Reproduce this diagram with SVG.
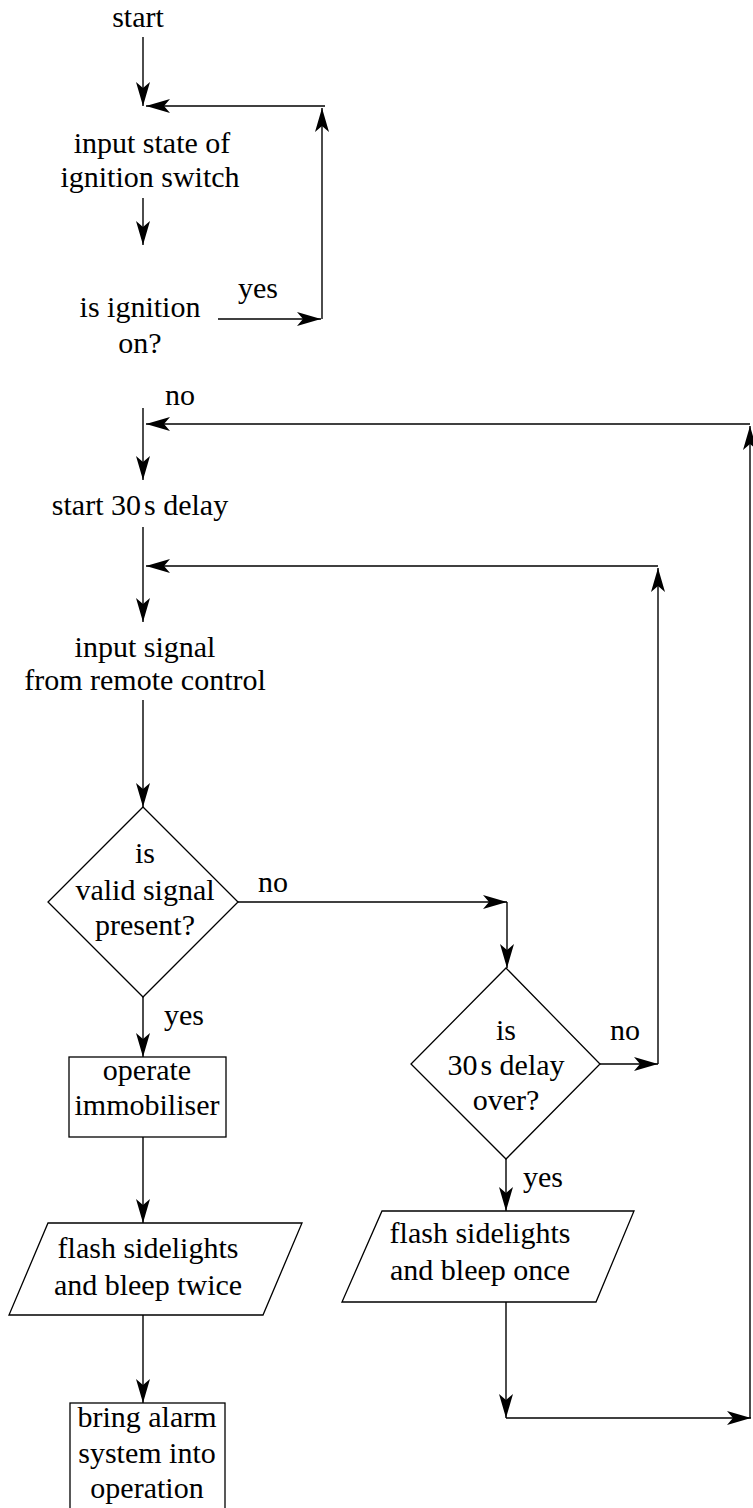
<svg xmlns="http://www.w3.org/2000/svg" width="753" height="1508" viewBox="0 0 753 1508">
<style>
text{font-family:"Liberation Serif","Times New Roman","DejaVu Serif",serif;font-size:30px;fill:#000;text-anchor:middle}
.s{fill:#fff;stroke:#000;stroke-width:1.3}
.c{fill:none;stroke:#000;stroke-width:1.4}
</style>
<defs>
<marker id="a" markerUnits="userSpaceOnUse" markerWidth="28" markerHeight="18" viewBox="-25 -9 28 18" refX="0" refY="0" orient="auto">
<path d="M0,0 L-24,-7 L-18,0 L-24,7 Z" fill="#000"/>
</marker>
</defs>
<rect width="753" height="1508" fill="#fff"/>
<g id="connectors">
<path class="c" d="M143,37 V106" marker-end="url(#a)"/>
<path class="c" d="M325,106 H146" marker-end="url(#a)"/>
<path class="c" d="M322,319 V108" marker-end="url(#a)"/>
<path class="c" d="M143,198 V245" marker-end="url(#a)"/>
<path class="c" d="M218,319 H321" marker-end="url(#a)"/>
<path class="c" d="M143,408 V480" marker-end="url(#a)"/>
<path class="c" d="M750,424 H146" marker-end="url(#a)"/>
<path class="c" d="M143,527 V622" marker-end="url(#a)"/>
<path class="c" d="M658,566 H146" marker-end="url(#a)"/>
<path class="c" d="M143,700 V807" marker-end="url(#a)"/>
<path class="c" d="M238,902 H507" marker-end="url(#a)"/>
<path class="c" d="M507,902 V968" marker-end="url(#a)"/>
<path class="c" d="M600,1064 H658" marker-end="url(#a)"/>
<path class="c" d="M658,1064 V568" marker-end="url(#a)"/>
<path class="c" d="M143,997 V1057" marker-end="url(#a)"/>
<path class="c" d="M143,1137 V1223" marker-end="url(#a)"/>
<path class="c" d="M143,1315 V1403" marker-end="url(#a)"/>
<path class="c" d="M506,1159 V1211" marker-end="url(#a)"/>
<path class="c" d="M506,1302 V1418" marker-end="url(#a)"/>
<path class="c" d="M506,1418 H751" marker-end="url(#a)"/>
<path class="c" d="M750,1418 V426" marker-end="url(#a)"/>
<text x="258" y="298">yes</text>
<text x="180" y="405">no</text>
<text x="273" y="892">no</text>
<text x="184" y="1025">yes</text>
<text x="625" y="1040">no</text>
<text x="543" y="1187">yes</text>
</g>
<g id="start"><text x="138" y="27">start</text></g>
<g id="input-ignition"><text x="152" y="153">input state of</text><text x="150" y="187">ignition switch</text></g>
<g id="is-ignition"><text x="140" y="317">is ignition</text><text x="140" y="353">on?</text></g>
<g id="start-delay"><text x="140" y="515">start 30<tspan dx="3">s delay</tspan></text></g>
<g id="input-signal"><text x="145" y="657">input signal</text><text x="145" y="690">from remote control</text></g>
<g id="valid-signal"><path class="s" d="M143,807 L238,902 L143,997 L48,902 Z"/><text x="145" y="863">is</text><text x="145" y="900">valid signal</text><text x="145" y="935">present?</text></g>
<g id="delay-over"><path class="s" d="M506,968 L600,1064 L506,1159 L411,1064 Z"/><text x="506" y="1040">is</text><text x="506" y="1075">30<tspan dx="3">s delay</tspan></text><text x="506" y="1110">over?</text></g>
<g id="immobiliser"><rect class="s" x="69" y="1057" width="157" height="80"/><text x="147" y="1080">operate</text><text x="147" y="1115">immobiliser</text></g>
<g id="flash-twice"><path class="s" d="M48,1223 L302,1223 L263,1315 L9,1315 Z"/><text x="148" y="1258">flash sidelights</text><text x="148" y="1295">and bleep twice</text></g>
<g id="flash-once"><path class="s" d="M382,1211 L634,1211 L596,1302 L342,1302 Z"/><text x="480" y="1243">flash sidelights</text><text x="480" y="1280">and bleep once</text></g>
<g id="alarm"><rect class="s" x="70" y="1403" width="155" height="110"/><text x="147" y="1427">bring alarm</text><text x="147" y="1463">system into</text><text x="147" y="1498">operation</text></g>
</svg>
